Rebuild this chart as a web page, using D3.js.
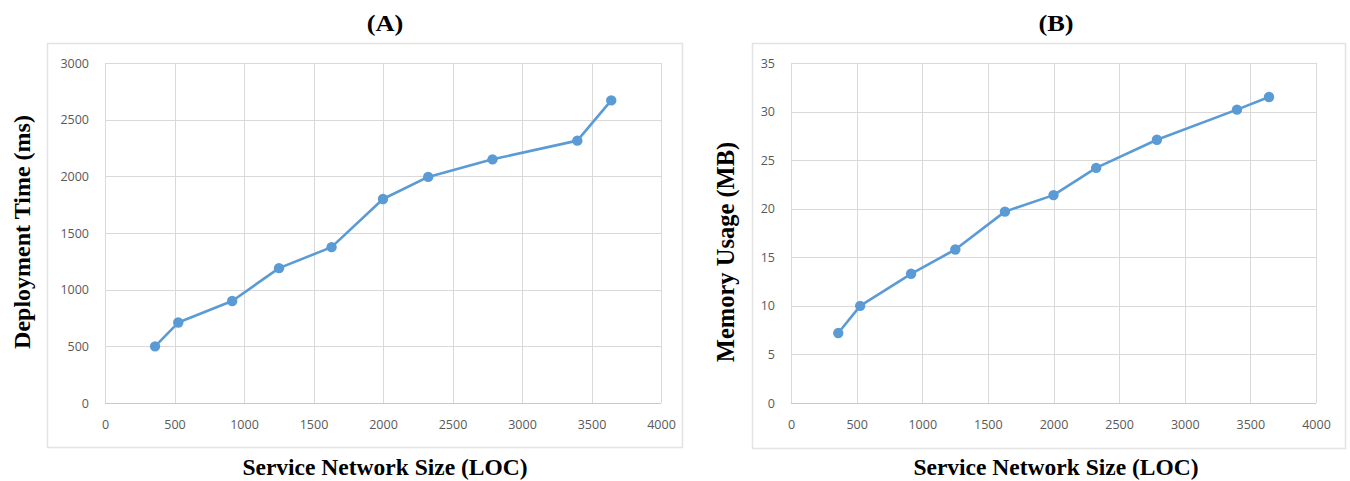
<!DOCTYPE html>
<html>
<head>
<meta charset="utf-8">
<script src="https://cdn.jsdelivr.net/npm/d3@7"></script>
<style>
  html, body { margin: 0; padding: 0; background: #fff; }
  svg { display: block; }
</style>
</head>
<body>
<div id="chart"></div>
<script>
// Service network size (LOC) – shared by both panels
const locSizes = [360, 527, 915, 1252, 1630, 2000, 2325, 2788, 3398, 3642];
// (A) deployment time in ms
const deployTimes = [500, 710, 900, 1190, 1375, 1800, 1995, 2150, 2315, 2670];
// (B) memory usage in MB
const memoryUsage = [7.2, 10, 13.3, 15.8, 19.7, 21.4, 24.2, 27.1, 30.2, 31.5];

const xTicks = [0, 500, 1000, 1500, 2000, 2500, 3000, 3500, 4000];
const yTicksA = [0, 500, 1000, 1500, 2000, 2500, 3000];
const yTicksB = [0, 5, 10, 15, 20, 25, 30, 35];

const W = 1350, H = 481;
const svg = d3.select('#chart').append('svg').attr('width', W).attr('height', H);

const blue = '#5b9bd5';
const grid = '#d9d9d9';
const tickColor = '#595959';
const serif = '"Liberation Serif", "Times New Roman", serif';
const sans = '"Open Sans", "Liberation Sans", sans-serif';

function panel(opts) {
  const { box, plot, title, yLabel, yLabelX, values, yTicks, yMax } = opts;

  // light frame around the embedded chart
  svg.append('rect')
    .attr('x', box.x0 + 0.5).attr('y', box.y0 + 0.5)
    .attr('width', box.x1 - box.x0).attr('height', box.y1 - box.y0)
    .attr('fill', '#fff').attr('stroke', '#e3e3e3').attr('stroke-width', 1.5);

  const x = d3.scaleLinear().domain([0, 4000]).range([plot.x0, plot.x1]);
  const y = d3.scaleLinear().domain([0, yMax]).range([plot.y1, plot.y0]);

  // gridlines
  svg.append('g')
    .selectAll('line.v').data(xTicks).enter().append('line')
    .attr('x1', (d) => Math.round(x(d)) + 0.5).attr('x2', (d) => Math.round(x(d)) + 0.5)
    .attr('y1', plot.y0).attr('y2', plot.y1)
    .attr('stroke', grid).attr('stroke-width', 1);
  svg.append('g')
    .selectAll('line.h').data(yTicks).enter().append('line')
    .attr('x1', plot.x0).attr('x2', plot.x1)
    .attr('y1', (d) => Math.round(y(d)) + 0.5).attr('y2', (d) => Math.round(y(d)) + 0.5)
    .attr('stroke', (d) => (d === 0 ? '#c8c8c8' : grid)).attr('stroke-width', 1);

  // axes (labels only)
  svg.append('g')
    .attr('transform', `translate(0,${plot.y1 + 14})`)
    .call(d3.axisBottom(x).tickValues(xTicks).tickSize(0).tickFormat(d3.format('d')))
    .call((g) => g.select('.domain').remove())
    .call((g) => g.selectAll('text').attr('fill', tickColor).attr('font-family', sans).attr('font-size', 12.5));

  svg.append('g')
    .attr('transform', `translate(${plot.x0 - 13},0)`)
    .call(d3.axisLeft(y).tickValues(yTicks).tickSize(0).tickFormat(d3.format('d')))
    .call((g) => g.select('.domain').remove())
    .call((g) => g.selectAll('text').attr('fill', tickColor).attr('font-family', sans).attr('font-size', 12.5));

  // series
  const pts = locSizes.map((l, i) => [l, values[i]]);
  svg.append('path')
    .datum(pts)
    .attr('fill', 'none')
    .attr('stroke', blue)
    .attr('stroke-width', 2.6)
    .attr('stroke-linejoin', 'round')
    .attr('d', d3.line().x((d) => x(d[0])).y((d) => y(d[1])));

  svg.append('g')
    .selectAll('circle').data(pts).enter().append('circle')
    .attr('cx', (d) => x(d[0])).attr('cy', (d) => y(d[1]))
    .attr('r', 5.2).attr('fill', blue);

  // titles
  svg.append('text')
    .attr('transform', `translate(${opts.titleX},31) scale(1.1,1)`)
    .attr('text-anchor', 'middle')
    .attr('font-family', serif).attr('font-weight', 'bold').attr('font-size', 24)
    .text(title);

  svg.append('text')
    .attr('x', opts.titleX).attr('y', 475)
    .attr('text-anchor', 'middle')
    .attr('font-family', serif).attr('font-weight', 'bold').attr('font-size', 23.5)
    .text('Service Network Size (LOC)');

  svg.append('text')
    .attr('transform', `translate(${yLabelX},${opts.yLabelY}) rotate(-90)`)
    .attr('text-anchor', 'middle')
    .attr('font-family', serif).attr('font-weight', 'bold').attr('font-size', opts.yLabelSize)
    .text(yLabel);
}

panel({
  box: { x0: 47, y0: 43, x1: 682, y1: 447 },
  plot: { x0: 105, y0: 63, x1: 661, y1: 403 },
  title: '(A)', titleX: 385,
  yLabel: 'Deployment Time (ms)', yLabelX: 30, yLabelY: 232, yLabelSize: 24,
  values: deployTimes, yTicks: yTicksA, yMax: 3000
});

panel({
  box: { x0: 752, y0: 43, x1: 1345, y1: 448 },
  plot: { x0: 791, y0: 63, x1: 1316, y1: 403 },
  title: '(B)', titleX: 1056,
  yLabel: 'Memory Usage (MB)', yLabelX: 734, yLabelY: 252, yLabelSize: 24.5,
  values: memoryUsage, yTicks: yTicksB, yMax: 35
});
</script>
</body>
</html>
